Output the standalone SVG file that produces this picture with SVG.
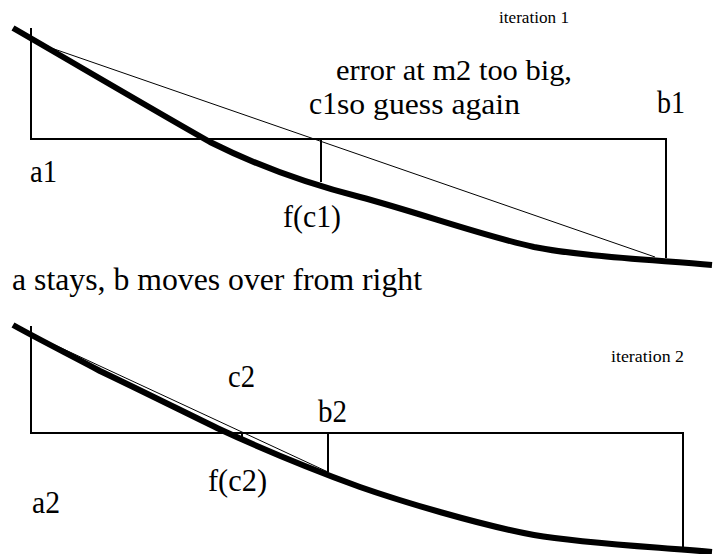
<svg xmlns="http://www.w3.org/2000/svg" width="714" height="554" viewBox="0 0 714 554">
<style>
.big{font-family:"Liberation Serif","Times New Roman",serif;font-size:31px;fill:#000}
.mid{font-family:"Liberation Serif","Times New Roman",serif;font-size:30px;fill:#000}
.small{font-family:"Liberation Serif","Times New Roman",serif;font-size:17px;fill:#000}
.frame{fill:none;stroke:#000;stroke-width:2}
.thin{fill:none;stroke:#000;stroke-width:1}
.fn{fill:none;stroke:#000;stroke-width:6}
</style>
<rect width="714" height="554" fill="#fff"/>
<g id="iteration1">
<path class="frame" d="M31,28 V139 H666 V258"/>
<path class="frame" d="M321,139 V182"/>
<path class="thin" d="M31,41 L655,257"/>
<path class="fn" d="M13,28 C60,55 150,108 210,142 C250,162 300,182 360,197 C420,213 480,235 534,247 C580,256 640,259 712,265"/>
<text class="small" x="499" y="23" textLength="70" lengthAdjust="spacingAndGlyphs">iteration 1</text>
<text class="mid" x="336" y="80" textLength="236" lengthAdjust="spacingAndGlyphs">error at m2 too big,</text>
<text class="big" x="309" y="114" textLength="28" lengthAdjust="spacingAndGlyphs">c1</text>
<text class="mid" x="337" y="114" textLength="183" lengthAdjust="spacingAndGlyphs">so guess again</text>
<text class="big" x="657" y="113" textLength="28" lengthAdjust="spacingAndGlyphs">b1</text>
<text class="big" x="30" y="182" textLength="27" lengthAdjust="spacingAndGlyphs">a1</text>
<text class="big" x="283" y="227" textLength="58" lengthAdjust="spacingAndGlyphs">f(c1)</text>
</g>
<g id="caption">
<text class="big" x="12" y="290" textLength="410" lengthAdjust="spacingAndGlyphs">a stays, b moves over from right</text>
</g>
<g id="iteration2">
<path class="frame" d="M31,326 V433 H683 V547"/>
<path class="frame" d="M242,433 V438"/>
<path class="frame" d="M328,433 V472"/>
<path class="thin" d="M31,334 L328,472"/>
<path class="fn" d="M13,325 C40,340 70,355 100,371 C140,390 180,410 217,428 C260,448 300,465 360,487 C400,501 480,525 534,535 C580,543 640,546 712,552"/>
<text class="small" x="611" y="362" textLength="73" lengthAdjust="spacingAndGlyphs">iteration 2</text>
<text class="big" x="228" y="387" textLength="27" lengthAdjust="spacingAndGlyphs">c2</text>
<text class="big" x="318" y="422" textLength="29" lengthAdjust="spacingAndGlyphs">b2</text>
<text class="big" x="208" y="491" textLength="59" lengthAdjust="spacingAndGlyphs">f(c2)</text>
<text class="big" x="32" y="513" textLength="28" lengthAdjust="spacingAndGlyphs">a2</text>
</g>
</svg>
